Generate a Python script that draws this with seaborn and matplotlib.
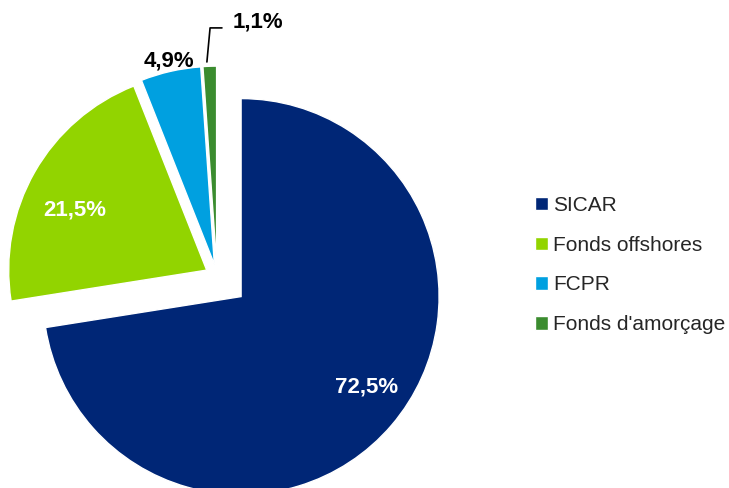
import matplotlib
matplotlib.use("Agg")
import matplotlib.pyplot as plt
import seaborn as sns

# data
categories = ["SICAR", "Fonds offshores", "FCPR", "Fonds d'amorçage"]
shares = [72.5, 21.5, 4.9, 1.1]
labels = ["72,5%", "21,5%", "4,9%", "1,1%"]
colors = ["#002676", "#92D400", "#00A0E0", "#3B8C2F"]
explode = [0.16, 0.06, 0.06, 0.06]

sns.set_theme(style="white")
plt.rcParams["font.family"] = ["Liberation Sans", "DejaVu Sans"]

fig = plt.figure(figsize=(7.29, 4.88), dpi=100)
ax = fig.add_axes([0, 0, 1, 1])

wedges, _ = ax.pie(shares, colors=colors, explode=explode, startangle=90,
                   counterclock=False, radius=1.0,
                   wedgeprops=dict(edgecolor="white", linewidth=1))

# pie centre at pixel (217, 276), radius 198 px
ax.set_xlim(-217 / 198, (729 - 217) / 198)
ax.set_ylim(-(488 - 276) / 198, 276 / 198)
ax.set_aspect("auto")
ax.axis("off")

# value labels
label_pos = [(0.753, -0.561), (-0.717, 0.333), (-0.242, 1.086), (0.207, 1.283)]
label_col = ["white", "white", "black", "black"]
for lab, (x, y), c in zip(labels, label_pos, label_col):
    ax.text(x, y, lab, ha="center", va="center", fontsize=16,
            fontweight="bold", color=c)

# leader line for the smallest slice
ax.plot([-0.051, -0.035, 0.025], [1.081, 1.253, 1.253], color="black", lw=1.2,
        clip_on=False)

fig.legend(wedges, categories, loc="center left",
           bbox_to_anchor=(525 / 729, 1 - 265 / 488), frameon=False,
           fontsize=15, handlelength=0.6, handleheight=0.6,
           handletextpad=0.25, labelspacing=1.0, borderpad=0)

fig.savefig("out.png", dpi=100)
